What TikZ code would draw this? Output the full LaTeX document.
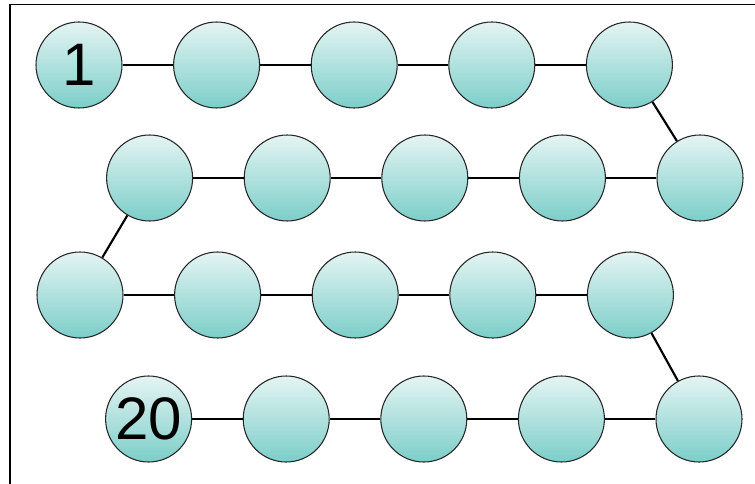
\documentclass[tikz,border=0pt]{standalone}
\usepackage{fontspec}
\setsansfont{Liberation Sans}
\usepackage{tikz}
\usepackage{xcolor}
\usetikzlibrary{positioning}
\definecolor{cTop}{RGB}{228,244,243}
\definecolor{cBottom}{RGB}{124,206,201}
\tikzset{
	bead/.style ={circle, minimum size=64.5pt, inner sep=0pt, draw=black!85, line width=0.8pt, top color=cTop, bottom color=cBottom, font=\sffamily\fontsize{45}{45}\selectfont},
	bond/.style ={line width=1.6pt, black},
}
\begin{document}
\begin{tikzpicture}[x=0.75pt, y=-0.75pt, node distance=37.9pt]
			\useasboundingbox (0,0) rectangle (755,484);
			\draw[line width=0.9pt] (10,484) -- (10,4.5) -- (755,4.5);
			% row 1, left to right
			\node[bead] (n1) at (79,65) {1};
			\node[bead, right=of n1] (n2) {};
			\node[bead, right=of n2] (n3) {};
			\node[bead, right=of n3] (n4) {};
			\node[bead, right=of n4] (n5) {};
			% row 2, right to left
			\node[bead] (n6) at (700,178) {};
			\node[bead, left=of n6] (n7) {};
			\node[bead, left=of n7] (n8) {};
			\node[bead, left=of n8] (n9) {};
			\node[bead, left=of n9] (n10) {};
			% row 3, left to right
			\node[bead] (n11) at (80,295) {};
			\node[bead, right=of n11] (n12) {};
			\node[bead, right=of n12] (n13) {};
			\node[bead, right=of n13] (n14) {};
			\node[bead, right=of n14] (n15) {};
			% row 4, right to left
			\node[bead] (n16) at (699,419) {};
			\node[bead, left=of n16] (n17) {};
			\node[bead, left=of n17] (n18) {};
			\node[bead, left=of n18] (n19) {};
			\node[bead, left=of n19] (n20) {20};
			\draw[bond](n1)--(n2); \draw[bond](n2)--(n3); \draw[bond](n3)--(n4); \draw[bond](n4)--(n5); \draw[bond](n5)--(n6);
			\draw[bond](n6)--(n7); \draw[bond](n7)--(n8); \draw[bond](n8)--(n9); \draw[bond](n9)--(n10); \draw[bond](n10)--(n11);
			\draw[bond](n11)--(n12); \draw[bond](n12)--(n13); \draw[bond](n13)--(n14); \draw[bond](n14)--(n15); \draw[bond](n15)--(n16);
			\draw[bond](n16)--(n17); \draw[bond](n17)--(n18); \draw[bond](n18)--(n19); \draw[bond](n19)--(n20);
		\end{tikzpicture}
\end{document}
